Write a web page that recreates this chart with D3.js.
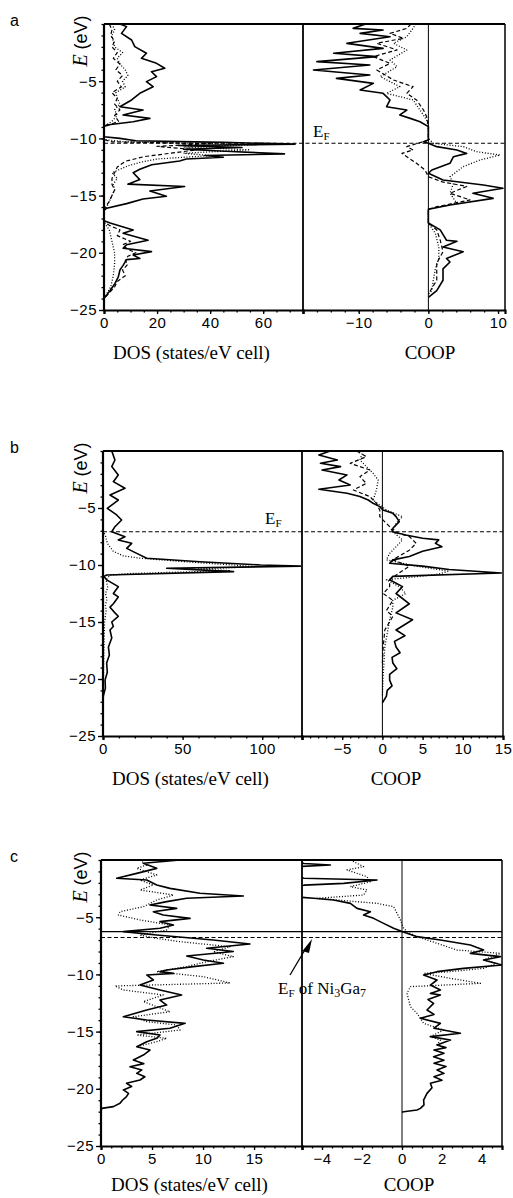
<!DOCTYPE html>
<html lang="en">
<head>
<meta charset="UTF-8">
<title>DOS and COOP</title>
<script src="https://d3js.org/d3.v7.min.js"></script>
<style>
  body { margin: 0; background: #fff; }
  svg { display: block; }
</style>
</head>
<body>
<svg id="chart" width="513" height="1198"></svg>
<script>
// energy axis, shared by all three panels
const energyTicks = [-5, -10, -15, -20, -25];

// ---- panel a : [E (eV), value] ----
const aDosTotal = [[0,6],[-0.23,8.5],[-0.82,6.6],[-1.4,10.4],[-1.98,11.6],[-2.56,16],[-3.0,14.1],[-3.44,19.8],[-3.87,22.9],[-4.17,17.9],[-4.6,19.8],[-5.04,16],[-5.48,18.5],[-6.06,13.5],[-6.64,10.4],[-7.23,6],[-7.52,14.7],[-7.95,7.2],[-8.25,17.3],[-8.54,11],[-8.83,1],[-8.97,0],[-9.85,0],[-10.0,6],[-10.2,12],[-10.35,45],[-10.5,72],[-10.62,28],[-10.8,52],[-10.95,30],[-11.15,48],[-11.35,68],[-11.5,38],[-11.65,45],[-11.8,31],[-11.97,28.5],[-12.3,18],[-12.7,13.5],[-13.0,11],[-13.6,13.5],[-14.0,9],[-14.2,30.4],[-14.6,17.3],[-15.05,23.5],[-15.3,14.7],[-15.7,8.5],[-16.1,1],[-16.3,0],[-17.2,0],[-17.4,2.3],[-18.0,11],[-18.3,7.2],[-18.9,16.6],[-19.3,8.5],[-19.6,7.2],[-19.9,17.9],[-20.2,11],[-20.5,13.5],[-20.6,8.5],[-21.1,7.2],[-21.5,6],[-22.1,5.4],[-22.7,4.1],[-23.3,2.3],[-23.7,1],[-24.0,0]];
const aDosDashed = [[0,2],[-0.5,3],[-1,2.5],[-1.5,4],[-2,3],[-2.5,5],[-3,3.5],[-3.5,6],[-4,4.5],[-4.5,7],[-5,5],[-5.5,6.5],[-6,3],[-6.5,5],[-7,4],[-7.5,6],[-8,4],[-8.5,5.5],[-8.9,1],[-9,0],[-10.1,0],[-10.3,3],[-10.45,40],[-10.7,20],[-11.0,35],[-11.3,25],[-11.6,15],[-12,8],[-12.5,5],[-13,4],[-13.5,3],[-14,3],[-14.5,4],[-15,3],[-15.5,2],[-16,0.5],[-16.3,0],[-17.3,0],[-17.6,2],[-18,6],[-18.5,5],[-19,10],[-19.3,7],[-19.7,9],[-20,12],[-20.3,9],[-20.7,8],[-21,9],[-21.5,7],[-22,8],[-22.5,5],[-23,4],[-23.5,2],[-24,0]];
const aDosDotted = [[0,3],[-0.5,4],[-1,3],[-1.5,3.5],[-2,4],[-2.5,7],[-3,5],[-3.5,6],[-4,8],[-4.5,9],[-5,7],[-5.5,8],[-6,4.5],[-6.5,5],[-7,6],[-7.5,4],[-8,5],[-8.5,3],[-8.9,0.5],[-9,0],[-10.1,0],[-10.3,8],[-10.55,58],[-10.75,30],[-11.0,55],[-11.3,30],[-11.5,40],[-11.8,20],[-12.1,13.5],[-12.4,9],[-12.7,6],[-13,3],[-13.5,5],[-14,3.5],[-14.5,4],[-15,3],[-15.5,2],[-16,1],[-16.3,0],[-17.3,0],[-18,2],[-19,3],[-20,4],[-21,4],[-22,3.5],[-23,2.5],[-24,0]];
const aCoopSolid = [[0,-9],[-0.38,-10.8],[-0.52,-6.5],[-0.82,-9.8],[-1.11,-5.5],[-1.69,-11.7],[-2.13,-6.5],[-2.56,-13.6],[-2.85,-7.4],[-3.29,-16],[-3.58,-8.4],[-4.02,-16.5],[-4.46,-8.4],[-4.75,-13.2],[-5.19,-7.9],[-5.77,-9.8],[-6.06,-6.5],[-6.64,-5.5],[-7.23,-6],[-7.52,-3.1],[-7.95,-4.1],[-8.25,-2.6],[-8.54,-1.2],[-8.97,0],[-10.14,0],[-10.29,-0.7],[-10.43,0],[-10.72,1.2],[-11.01,4.1],[-11.31,5.5],[-11.6,3.6],[-12.18,3.1],[-12.76,0.5],[-13.05,0],[-13.64,2.1],[-14.07,7.9],[-14.36,10.7],[-14.8,6.4],[-15.24,9.3],[-15.82,3.1],[-16.2,0],[-17.4,0],[-18.0,1.7],[-18.9,2.6],[-19.0,4.1],[-19.5,2.1],[-19.9,5],[-20.5,2.6],[-20.8,3.1],[-21.4,2.1],[-22.4,2.1],[-23.3,1.2],[-23.9,0]];
const aCoopDashed = [[0,-2.5],[-0.38,-3.1],[-0.82,-5.5],[-1.25,-3.6],[-1.69,-7.4],[-2.27,-4.5],[-2.85,-7.9],[-3.44,-5.5],[-4.02,-7.4],[-4.9,-5],[-5.48,-2.2],[-6.06,-3.1],[-6.64,-1.7],[-7.52,-0.7],[-8.1,-0.25],[-8.97,0],[-10.14,0],[-10.72,-3.1],[-11.01,-2.2],[-11.31,-3.8],[-11.6,-3.1],[-12.18,-1.7],[-12.76,-0.5],[-13.35,0],[-13.8,2],[-14.2,5.5],[-14.8,3.1],[-15.38,6],[-15.97,1.2],[-16.2,0],[-17.4,0],[-18.0,1.2],[-18.9,1.7],[-19.9,2.1],[-20.9,1.2],[-22.4,1.2],[-23.6,0]];
const aCoopDotted = [[0,-1.8],[-0.38,-2.2],[-1.11,-3.1],[-1.69,-5],[-2.27,-3.1],[-3.15,-5.5],[-3.73,-4.5],[-4.6,-6.9],[-5.48,-4.1],[-6.06,-6],[-6.64,-2.2],[-7.52,-1.2],[-8.39,-0.25],[-8.97,0],[-10.0,0],[-10.43,0.7],[-10.72,5],[-11.16,6.9],[-11.45,10.3],[-11.89,7.4],[-12.47,5],[-13.35,3.1],[-13.93,3.6],[-14.8,3.1],[-15.68,4.1],[-16.2,0],[-17.4,0],[-18.3,1],[-19.5,1.5],[-20.5,1.5],[-21.4,1],[-22.4,0.7],[-23.3,0.5],[-23.6,0]];

// ---- panel b ----
const bDosTotal = [[0,5.5],[-0.79,7.5],[-1.37,5.5],[-2.1,9.6],[-2.69,6.5],[-3.27,13.8],[-3.86,4.4],[-4.3,9.6],[-5.03,2.7],[-5.61,8.6],[-6.05,11.7],[-6.64,7.5],[-7.08,5.5],[-7.52,13.8],[-7.8,9.6],[-8.1,18],[-8.54,14.9],[-8.98,21.2],[-9.41,27.5],[-9.71,61],[-10.0,99],[-10.1,124],[-10.29,40],[-10.58,82],[-10.88,2.3],[-11.0,0.6],[-11.3,2.3],[-11.9,9.6],[-12.5,6.5],[-12.8,9.6],[-13.4,6.5],[-13.7,4.4],[-14.2,7.5],[-14.5,9.6],[-15.0,5.5],[-15.4,6.5],[-15.7,4.4],[-16.4,5.5],[-17.2,3.4],[-17.9,4],[-18.6,2.3],[-19.4,2.7],[-20.1,1.3],[-20.8,1.5],[-21.5,0.2],[-22.0,0]];
const bDosDotted = [[-7.0,0],[-7.5,1.7],[-8.1,2.7],[-8.8,6.5],[-9.2,12.8],[-9.4,23],[-9.7,50],[-10.0,82],[-10.15,95],[-10.35,60],[-10.5,80],[-10.75,17],[-10.9,4.4],[-11.3,2],[-12,3],[-12.5,1.5],[-13,2.5],[-13.5,1.5],[-14,2],[-15,1],[-16,0.8],[-18,0.5],[-20,0.3],[-22,0]];
const bCoopSolid = [[0,-6.5],[-0.35,-7.9],[-0.79,-5.6],[-1.08,-7.7],[-1.37,-5.2],[-1.67,-7.5],[-2.1,-4.4],[-2.54,-5.4],[-2.98,-4],[-3.36,-7.9],[-3.71,-4.4],[-4.0,-2.8],[-4.3,-1.76],[-4.59,-1.15],[-4.88,-0.33],[-5.18,0.07],[-5.47,1.3],[-5.76,1.7],[-6.2,2.1],[-6.78,1.3],[-7.08,1.3],[-7.37,2.9],[-7.66,5],[-7.8,7],[-8.1,6.6],[-8.4,7.4],[-8.8,5],[-9.26,3.35],[-9.55,1.3],[-9.85,0.9],[-10.1,5],[-10.4,8.3],[-10.7,14.8],[-11.0,1.3],[-11.3,0.9],[-11.9,2.5],[-12.5,1.7],[-13.4,3.35],[-14.2,1.7],[-14.8,3.75],[-15.7,1.7],[-16.2,2.8],[-16.7,1.5],[-17.2,1.7],[-17.7,2.2],[-18.1,1.2],[-18.6,1.3],[-19.1,1.8],[-19.6,0.9],[-20.1,0.9],[-20.6,1.2],[-21.0,0.6],[-21.5,0.5],[-22.1,0]];
const bCoopDashed = [[0,-3.2],[-0.5,-2],[-1.08,-4],[-1.67,-1.56],[-2.25,-2.8],[-2.84,-2],[-3.42,-3.6],[-4.0,-1.56],[-4.59,-0.74],[-5.18,-0.33],[-5.76,-0.33],[-6.64,0.9],[-7.08,1.3],[-7.5,3.35],[-8.1,4.2],[-8.7,3.35],[-9.55,1.3],[-10.1,3.35],[-10.7,2.1],[-11.3,0.9],[-11.9,0.9],[-12.5,0.1],[-13.1,1.3],[-14.0,0.5],[-14.5,1.3],[-15.7,0.3],[-17.2,0.1],[-18.6,0]];
const bCoopDotted = [[0,-2.4],[-0.79,-2.8],[-1.96,-1.15],[-2.54,-0.53],[-3.42,-0.74],[-4.3,-1.15],[-5.18,0.5],[-5.76,2.5],[-6.35,1.7],[-7.08,1.3],[-7.8,2.5],[-8.4,1.7],[-8.98,0.9],[-9.55,0.5],[-10.1,4.2],[-10.55,8.3],[-10.85,6.6],[-11.3,0.5],[-11.9,2.1],[-12.5,2.9],[-13.1,1.3],[-13.7,1.3],[-14.8,0.9],[-17.2,0.3],[-20.1,0.07],[-21.5,0]];

// ---- panel c ----
const cDosTotal = [[0,7.75],[-0.29,4.15],[-0.73,5.46],[-1.17,3.5],[-1.6,1.54],[-1.75,4.48],[-2.19,5.46],[-2.48,6.76],[-2.91,9.7],[-3.15,13.95],[-3.35,8.4],[-3.64,6.44],[-3.93,4.8],[-4.23,7.42],[-4.52,5.13],[-4.81,6.1],[-5.1,8.73],[-5.39,5.78],[-5.68,7.1],[-5.97,5.78],[-6.26,2.19],[-6.56,5.46],[-6.99,11],[-7.34,14.6],[-7.72,10.36],[-8.0,12.97],[-8.39,8.4],[-8.74,10.03],[-9.03,12],[-9.32,9.05],[-9.62,6.44],[-9.76,5.78],[-9.91,7.1],[-10.05,4.48],[-10.49,5.13],[-10.93,3.82],[-11.36,5.78],[-11.8,7.9],[-12.24,5.78],[-12.68,6.44],[-13.11,4.48],[-13.7,2.19],[-13.99,4.48],[-14.28,8.24],[-14.71,6.76],[-15.0,3.5],[-15.3,5.78],[-15.59,5.46],[-15.88,4.48],[-16.32,3.5],[-16.61,4.8],[-17.05,4.15],[-17.48,3.17],[-17.8,4.2],[-18.07,2.84],[-18.35,4.0],[-18.65,3.5],[-18.95,4.3],[-19.23,3.82],[-19.52,2.5],[-19.8,3.0],[-20.1,2.19],[-20.4,2.7],[-20.69,2.5],[-21.0,2.1],[-21.27,1.86],[-21.56,1.21],[-21.71,0.07],[-22.0,0]];
const cDosDotted = [[0,3.82],[-0.44,4.48],[-0.73,3.5],[-1.31,5.46],[-1.75,3.82],[-2.19,5.13],[-2.62,3.82],[-3.06,7.1],[-3.5,5.46],[-4.08,4.15],[-4.52,1.86],[-4.81,1.7],[-5.24,3.82],[-5.68,6.76],[-6.12,6.44],[-6.56,3.82],[-6.85,5.46],[-7.14,7.75],[-7.58,12.65],[-8.02,11],[-8.45,12.97],[-8.89,10.36],[-9.32,8.4],[-9.76,5.46],[-10.2,10.03],[-10.75,12.65],[-11.01,1.37],[-11.36,2.19],[-11.8,6.1],[-12.38,4.15],[-12.82,5.46],[-13.26,6.76],[-13.7,3.17],[-14.13,4.48],[-14.42,7.42],[-14.86,7.75],[-15.3,3.5],[-15.59,6.44],[-15.88,5.46],[-16.32,3.5]];
const cCoopSolid = [[0,-5.5],[-0.3,-4.9],[-0.44,-3.58],[-0.6,-5.5],[-1.31,-5.5],[-1.6,-4.9],[-1.75,-1.25],[-2.04,-2.92],[-2.2,-4.9],[-2.4,-5.5],[-3.2,-5.5],[-3.35,-4.42],[-3.5,-3.42],[-3.79,-2.58],[-4.23,-2.25],[-4.52,-1.58],[-4.81,-1.92],[-5.1,-1.42],[-5.54,-0.92],[-5.97,-0.42],[-6.26,0],[-6.7,0.75],[-6.99,1.92],[-7.43,3.42],[-7.87,4.08],[-8.16,3.42],[-8.45,4.92],[-8.74,4.08],[-9.18,5],[-9.47,3.08],[-9.76,1.75],[-10.05,1.08],[-10.49,1.75],[-10.93,1.42],[-11.36,1.92],[-11.66,1.42],[-11.8,1.92],[-12.2,1.3],[-12.53,1.58],[-13.11,1.25],[-13.5,1.6],[-13.84,0.92],[-14.28,1.92],[-14.7,1.6],[-15.15,2.92],[-15.44,1.42],[-15.74,2.42],[-16.17,1.75],[-16.4,2.2],[-16.61,1.6],[-16.9,2.1],[-17.19,1.58],[-17.5,2.1],[-17.77,1.6],[-18.05,2.2],[-18.36,1.75],[-18.65,2.1],[-18.94,1.6],[-19.25,2.0],[-19.52,1.42],[-19.9,1.5],[-20.4,1.25],[-20.98,1.08],[-21.4,1.1],[-21.71,0.92],[-21.85,0.75],[-22.0,0.08],[-22.05,0]];
const cCoopDotted = [[0,-2.58],[-0.58,-1.92],[-0.87,-2.75],[-1.46,-1.75],[-1.9,-1.58],[-2.33,-2.58],[-2.62,-1.75],[-3.06,-1.92],[-3.35,-4.25],[-3.79,-1.25],[-4.08,-0.42],[-4.66,-0.25],[-5.24,-0.08],[-5.97,0.08],[-6.26,0.25],[-6.7,0.75],[-7.28,1.75],[-7.87,2.75],[-8.16,4.92],[-8.74,4.08],[-9.03,4.75],[-9.47,4.08],[-9.76,2.42],[-9.91,1.08],[-10.34,2.42],[-10.78,3.92],[-11.07,0.42],[-11.66,0.25],[-12.82,0.42],[-13.4,0.75],[-14.28,1.08],[-14.86,2.08],[-15.44,1.42],[-15.74,1.92],[-16.17,1.75]];

// fermi levels (eV)
const aFermi = -10.43;
const bFermi = -7.08;
const cFermiSolid = -6.26;
const cFermiDashed = -6.77;

// layout of the three panels
const panels = [
  { letter: "a", top: 24, bottom: 310, left: 104, split: 303, right: 505,
    dosMax: 75, coopDomain: [-18, 11], dosTicks: [0, 20, 40, 60], dosMinor: 5,
    coopTicks: [-10, 0, 10], coopMinor: 2, coopTitleX: 430, titleGap: 49,
    dos: [[aDosTotal, "solid"], [aDosDashed, "dashed"], [aDosDotted, "dotted"]],
    coop: [[aCoopSolid, "solid"], [aCoopDashed, "dashed"], [aCoopDotted, "dotted"]],
    fermi: [[aFermi, "dashed"]] },
  { letter: "b", top: 451, bottom: 736, left: 103, split: 302, right: 503,
    dosMax: 125, coopDomain: [-10, 15], dosTicks: [0, 50, 100], dosMinor: 10,
    coopTicks: [-5, 0, 5, 10, 15], coopMinor: 1, coopTitleX: 396, titleGap: 49,
    dos: [[bDosTotal, "solid"], [bDosDotted, "dotted"]],
    coop: [[bCoopSolid, "solid"], [bCoopDashed, "dashed"], [bCoopDotted, "dotted"]],
    fermi: [[bFermi, "dashed"]] },
  { letter: "c", top: 860, bottom: 1146, left: 101, split: 302, right: 502,
    dosMax: 19.7, coopDomain: [-5, 5], dosTicks: [0, 5, 10, 15], dosMinor: 1,
    coopTicks: [-4, -2, 0, 2, 4], coopMinor: 0.5, coopTitleX: 409, titleGap: 45,
    dos: [[cDosTotal, "solid"], [cDosDotted, "dotted"]],
    coop: [[cCoopSolid, "solid"], [cCoopDotted, "dotted"]],
    fermi: [[cFermiSolid, "solid"], [cFermiDashed, "dashed"]] }
];

const svg = d3.select("#chart");
const fmt = d => d < 0 ? "\u2212" + Math.abs(d) : String(d);
const styles = {
  solid: { w: 1.6, dash: null },
  dashed: { w: 1.2, dash: "4,2.5" },
  dotted: { w: 1.3, dash: "1,1.8" }
};
const serif = "'Liberation Serif', 'Times New Roman', serif";
const sans = "'Liberation Sans', Arial, sans-serif";

function range(a, b, step) {
  const out = [];
  for (let v = a; v <= b + 1e-9; v += step) out.push(+v.toFixed(4));
  return out;
}

panels.forEach((p, i) => {
  const g = svg.append("g");
  const y = d3.scaleLinear().domain([0, -25]).range([p.top, p.bottom]);
  const xDos = d3.scaleLinear().domain([0, p.dosMax]).range([p.left, p.split]);
  const xCoop = d3.scaleLinear().domain(p.coopDomain).range([p.split, p.right]);

  // clip regions
  const defs = g.append("defs");
  defs.append("clipPath").attr("id", "dos" + i).append("rect")
    .attr("x", p.left).attr("y", p.top).attr("width", p.split - p.left).attr("height", p.bottom - p.top);
  defs.append("clipPath").attr("id", "coop" + i).append("rect")
    .attr("x", p.split).attr("y", p.top).attr("width", p.right - p.split).attr("height", p.bottom - p.top);

  // coop zero line
  g.append("line")
    .attr("x1", xCoop(0)).attr("x2", xCoop(0)).attr("y1", p.top).attr("y2", p.bottom)
    .attr("stroke", "#000").attr("stroke-width", 1);

  // curves
  const draw = (series, x, clip) => {
    const line = d3.line().x(d => x(d[1])).y(d => y(d[0]));
    series.forEach(([data, kind]) => {
      const s = styles[kind];
      g.append("path").datum(data)
        .attr("clip-path", `url(#${clip})`)
        .attr("d", line)
        .attr("fill", "none")
        .attr("stroke", "#000")
        .attr("stroke-width", s.w)
        .attr("stroke-linejoin", "round")
        .attr("stroke-dasharray", s.dash);
    });
  };
  draw(p.dos, xDos, "dos" + i);
  draw(p.coop, xCoop, "coop" + i);

  // fermi level lines
  p.fermi.forEach(([e, kind]) => {
    g.append("line")
      .attr("x1", p.left).attr("x2", p.right).attr("y1", y(e)).attr("y2", y(e))
      .attr("stroke", "#000").attr("stroke-width", kind === "solid" ? 1.2 : 1.1)
      .attr("stroke-dasharray", kind === "solid" ? null : "4,2.5");
  });

  // frame
  const frame = g.append("g").attr("stroke", "#000").attr("fill", "none");
  frame.append("line").attr("x1", p.left).attr("x2", p.right).attr("y1", p.top).attr("y2", p.top).attr("stroke-width", 1.8);
  frame.append("line").attr("x1", p.right).attr("x2", p.right).attr("y1", p.top).attr("y2", p.bottom).attr("stroke-width", 1.5);
  frame.append("line").attr("x1", p.split).attr("x2", p.split).attr("y1", p.top).attr("y2", p.bottom).attr("stroke-width", 1.8);

  // left axis
  const yAxis = g.append("g").attr("transform", `translate(${p.left},0)`)
    .call(d3.axisLeft(y).tickValues(energyTicks).tickFormat(fmt).tickSize(5).tickPadding(2));
  g.append("g").attr("transform", `translate(${p.left},0)`)
    .call(d3.axisLeft(y).tickValues(range(-25, 0, 1)).tickFormat("").tickSize(2.5))
    .call(a => a.select(".domain").remove());
  yAxis.select(".domain").attr("stroke-width", 2.2).attr("d", `M0,${p.top}V${p.bottom}`);

  // bottom axes
  const bottomAxis = (scale, ticks, minor, lo, hi) => {
    g.append("g").attr("transform", `translate(0,${p.bottom})`)
      .call(d3.axisBottom(scale).tickValues(range(lo, hi, minor)).tickFormat("").tickSize(2.5))
      .call(a => a.select(".domain").remove());
    g.append("g").attr("transform", `translate(0,${p.bottom})`)
      .call(d3.axisBottom(scale).tickValues(ticks).tickFormat(fmt).tickSize(4).tickPadding(3))
      .call(a => a.select(".domain").attr("stroke-width", 2.2));
  };
  bottomAxis(xDos, p.dosTicks, p.dosMinor, 0, p.dosMax);
  bottomAxis(xCoop, p.coopTicks, p.coopMinor, p.coopDomain[0], p.coopDomain[1]);

  g.selectAll(".tick text")
    .attr("font-family", sans)
    .attr("font-size", 15)
    .attr("letter-spacing", 0.5)
    .attr("fill", "#000");
  g.selectAll(".tick line").attr("stroke-width", 1.3);

  // titles
  g.append("text").attr("x", (p.left + p.split) / 2 - 12).attr("y", p.bottom + p.titleGap)
    .attr("text-anchor", "middle").attr("font-family", serif)
    .attr("font-size", 19).text("DOS (states/eV cell)");
  g.append("text").attr("x", p.coopTitleX).attr("y", p.bottom + p.titleGap)
    .attr("text-anchor", "middle").attr("font-family", serif)
    .attr("font-size", 19).text("COOP");

  // panel letter
  g.append("text").attr("x", 10).attr("y", p.top + 2)
    .attr("font-family", sans).attr("font-size", 16).text(p.letter);

  // energy axis label
  const ey = g.append("text")
    .attr("transform", `translate(${87},${p.top + 17}) rotate(-90)`)
    .attr("text-anchor", "middle").attr("font-size", 20);
  ey.append("tspan").attr("font-family", serif).attr("font-style", "italic").text("E");
  ey.append("tspan").attr("font-family", sans).attr("font-size", 18).text(" (eV)");
});

// E_F annotations
function fermiLabel(x, yPos, extra) {
  const t = svg.append("text").attr("x", x).attr("y", yPos)
    .attr("font-family", serif).attr("font-size", 17);
  t.append("tspan").text("E");
  t.append("tspan").attr("font-size", 11).attr("dy", 3).text("F");
  if (extra) {
    t.append("tspan").attr("dy", -3).text(" of Ni");
    t.append("tspan").attr("font-size", 12).attr("dy", 3).text("3");
    t.append("tspan").attr("dy", -3).text("Ga");
    t.append("tspan").attr("font-size", 12).attr("dy", 3).text("7");
  }
}
fermiLabel(313, 137, false);
fermiLabel(265, 524, false);
fermiLabel(278, 994, true);

// arrow for panel c
svg.append("line").attr("x1", 290).attr("y1", 975).attr("x2", 306).attr("y2", 948)
  .attr("stroke", "#000").attr("stroke-width", 1.3);
svg.append("path").attr("d", "M312,939 L302.5,951 L309,953 Z").attr("fill", "#000");
</script>
</body>
</html>
